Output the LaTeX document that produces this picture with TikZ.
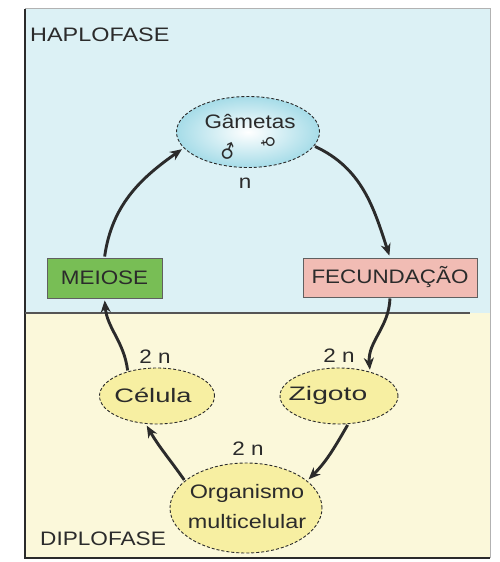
\documentclass[tikz,border=0pt]{standalone}
\usepackage{fontspec}
\setmainfont{Liberation Sans}
\newfontfamily\symfont{DejaVu Sans}
\usetikzlibrary{shapes.geometric,arrows.meta}
\definecolor{topbg}{HTML}{DCF1F5}
\definecolor{botbg}{HTML}{FBF8DA}
\definecolor{ellyel}{HTML}{F7EFA2}
\definecolor{ellcyan}{HTML}{A6DCE8}
\definecolor{meiosec}{HTML}{78BE55}
\definecolor{fecc}{HTML}{F1BCB4}
\definecolor{ink}{HTML}{2B2B2B}
\newcommand\wtxt[2]{\scalebox{#1}[1]{#2}}
\begin{document}
\begin{tikzpicture}[x=1pt,y=1pt,
  lbl/.style={font=\fontsize{19.5}{21}\selectfont, text=ink, inner sep=0},
  cellshape/.style={ellipse, draw=ink, dash pattern=on 3pt off 2pt, line width=0.9pt, fill=ellyel, inner sep=0},
  phasebox/.style={rectangle, draw=ink!75, line width=0.9pt, inner sep=0},
  cyc/.style={draw=ink, line width=2.9pt, -{Stealth[length=12pt,width=10pt]}, shorten >=2pt, shorten <=1pt}
]
\useasboundingbox (0,0) rectangle (500,562);
\fill[white] (0,0) rectangle (500,562);
\fill[topbg] (25,553) rectangle (490,249);
\fill[botbg] (25,249) rectangle (490,4);
\draw[gray!60, line width=1pt] (25,553) -- (490,553) -- (490,4);
\draw[ink, line width=1.5pt] (25,553) -- (25,4) -- (490,4);
\draw[ink!80, line width=1.2pt] (25,249) -- (470,249);

\node[lbl, anchor=west] (hap) at (30,527) {\wtxt{1.2}{HAPLOFASE}};
\node[lbl, anchor=west] (dip) at (40,23) {\wtxt{1.16}{DIPLOFASE}};

% gametes
\node[ellipse, minimum width=143pt, minimum height=71pt, inner sep=0,
      inner color=white, outer color=ellcyan, draw=ink, dash pattern=on 3pt off 2pt, line width=0.9pt] (g) at (248,430) {};
\node[lbl] (gt) at (250,440) {\wtxt{1.15}{Gâmetas}};
\node[text=ink, inner sep=0, rotate=25, font=\symfont\fontsize{19}{19}\selectfont] (male) at (228,410) {♂};
\node[text=ink, inner sep=0, rotate=-80, font=\symfont\fontsize{16}{16}\selectfont] (female) at (268,420) {♀};
\node[lbl] (nlab) at (245,379) {\wtxt{1.15}{n}};

% boxes
\node[phasebox, fill=meiosec, minimum width=115pt, minimum height=40pt] (mei) at (104.5,284) {};
\node[lbl] at (mei) {\wtxt{1.15}{MEIOSE}};
\node[phasebox, fill=fecc, minimum width=174pt, minimum height=39pt] (fec) at (390,284.5) {};
\node[lbl] at (fec) {\wtxt{1.15}{FECUNDAÇÃO}};

% diploid cells
\node[cellshape, minimum width=115pt, minimum height=56pt] (cel) at (157,166) {};
\node[lbl] at (153,167) {\wtxt{1.4}{Célula}};
\node[cellshape, minimum width=118pt, minimum height=56pt] (zig) at (339,166) {};
\node[lbl] at (328,167) {\wtxt{1.45}{Zigoto}};
\node[cellshape, minimum width=152pt, minimum height=90pt] (org) at (246,54) {};
\node[lbl] at (247,69) {\wtxt{1.2}{Organismo}};
\node[lbl] at (247,40) {\wtxt{1.2}{multicelular}};

\node[lbl] (twoa) at (155,205) {\wtxt{1.15}{2 n}};
\node[lbl] (twob) at (339,206) {\wtxt{1.15}{2 n}};
\node[lbl] (twoc) at (248,113) {\wtxt{1.15}{2 n}};

% cycle
\draw[cyc] (g.-12) to[out=-25, in=108] (fec.north);
\draw[cyc] (fec.south) to[out=-92, in=95] (zig.38);
\draw[cyc] (zig.-72) to[out=-120, in=45] (org.24);
\draw[cyc] (org.156) to[out=125, in=-60] (cel.-112);
\draw[cyc] (cel.140) to[out=97, in=-85] (mei.south);
\draw[cyc] (mei.north) to[out=82, in=215] (g.194);
\end{tikzpicture}
\end{document}
